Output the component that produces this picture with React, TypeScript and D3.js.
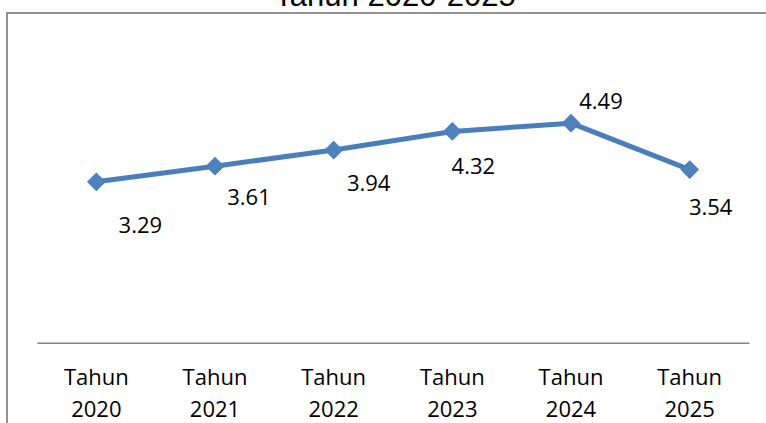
import React, { useEffect, useRef } from 'react'
import * as d3 from 'd3'

const title = 'Tahun 2020-2025'
const years = ['2020', '2021', '2022', '2023', '2024', '2025']
const values = [3.29, 3.61, 3.94, 4.32, 4.49, 3.54]
// label placement relative to each point (layout only)
const labelOffsets = [
  [44, 43],
  [34, 31],
  [35, 33],
  [21, 35],
  [30, -22],
  [21, 37],
]

export default function App() {
  const svgRef = useRef(null)
  const width = 766
  const height = 423

  useEffect(() => {
    const svg = d3.select(svgRef.current)
    svg.selectAll('*').remove()

    const x = d3.scaleBand().domain(years).range([37, 749])
    const y = d3.scaleLinear().domain([0, 6]).range([342.7, 49.3])
    const cx = (d) => x(d) + x.bandwidth() / 2

    // chart border (runs off the right and bottom edge)
    svg
      .append('rect')
      .attr('x', 7)
      .attr('y', 13)
      .attr('width', 800)
      .attr('height', 500)
      .attr('fill', 'none')
      .attr('stroke', '#878787')
      .attr('stroke-width', 1.8)

    // title
    svg
      .append('text')
      .attr('x', 395)
      .attr('y', 6)
      .attr('text-anchor', 'middle')
      .attr('font-family', '"Liberation Sans", Arial, sans-serif')
      .attr('font-size', 31)
      .attr('fill', '#000')
      .text(title)

    // x axis
    const xAxis = svg
      .append('g')
      .attr('transform', `translate(0, ${y(0)})`)
      .call(d3.axisBottom(x).tickSize(0).tickFormat(() => ''))
    xAxis.select('.domain').attr('stroke', '#868686').attr('stroke-width', 1.5)

    const labels = svg
      .append('g')
      .attr('font-family', '"Open Sans", sans-serif')
      .attr('font-size', 22)
      .attr('fill', '#000')
      .attr('text-anchor', 'middle')
    years.forEach((yr) => {
      labels.append('text').attr('x', cx(yr)).attr('y', 385).text('Tahun')
      labels.append('text').attr('x', cx(yr)).attr('y', 416.5).text(yr)
    })

    const data = years.map((yr, i) => ({ year: yr, value: values[i] }))

    svg
      .append('path')
      .datum(data)
      .attr('fill', 'none')
      .attr('stroke', '#4A7EBB')
      .attr('stroke-width', 5)
      .attr('stroke-linejoin', 'round')
      .attr(
        'd',
        d3
          .line()
          .x((d) => cx(d.year))
          .y((d) => y(d.value))
      )

    svg
      .append('g')
      .selectAll('path')
      .data(data)
      .enter()
      .append('path')
      .attr('d', d3.symbol().type(d3.symbolSquare).size(150))
      .attr('transform', (d) => `translate(${cx(d.year)}, ${y(d.value)}) rotate(45)`)
      .attr('fill', '#4F81BD')
      .attr('stroke', '#4A7EBB')
      .attr('stroke-width', 1)

    // data labels
    svg
      .append('g')
      .attr('font-family', '"Open Sans", sans-serif')
      .attr('font-size', 22)
      .attr('fill', '#000')
      .attr('text-anchor', 'middle')
      .selectAll('text')
      .data(data)
      .enter()
      .append('text')
      .attr('x', (d, i) => cx(d.year) + labelOffsets[i][0])
      .attr('y', (d, i) => y(d.value) + labelOffsets[i][1])
      .attr('dy', '0.36em')
      .text((d) => d.value.toFixed(2))
  }, [])

  return (
    <svg
      ref={svgRef}
      width={width}
      height={height}
      style={{ position: 'absolute', left: 0, top: 0, background: '#fff' }}
    />
  )
}
